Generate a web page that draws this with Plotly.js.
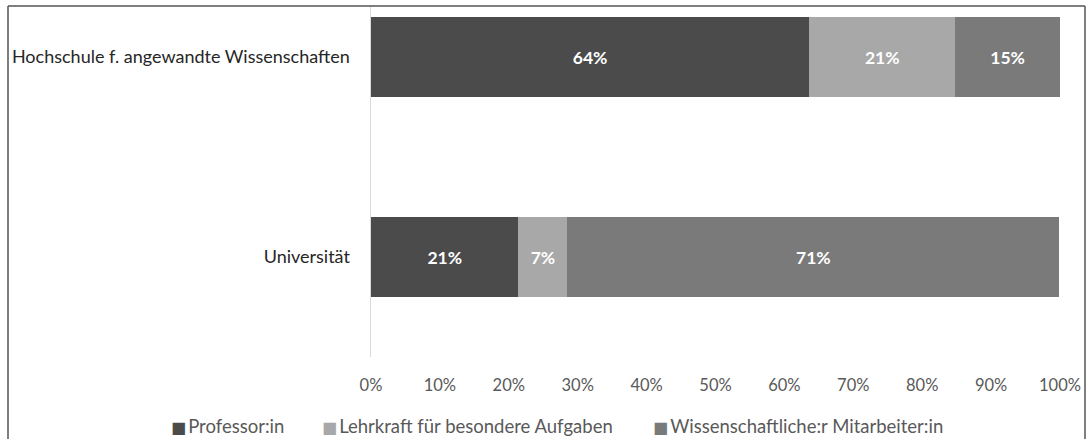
<!DOCTYPE html>
<html>
<head>
<meta charset="utf-8">
<script src="https://cdn.plot.ly/plotly-3.0.1.min.js"></script>
<style>html,body{margin:0;padding:0;background:#fff;}#chart{width:1090px;height:439px;}</style>
</head>
<body>
<div id="chart"></div>
<script>
const categories = ["Universität", "Hochschule f. angewandte Wissenschaften"];
const professor = [21.4, 63.6];
const lehrkraft = [7.1, 21.2];
const wissMitarbeiter = [71.4, 15.2];
const seriesNames = ["Professor:in", "Lehrkraft für besondere Aufgaben", "Wissenschaftliche:r Mitarbeiter:in"];
const tickVals = [0, 10, 20, 30, 40, 50, 60, 70, 80, 90, 100];
const tickText = ["0%", "10%", "20%", "30%", "40%", "50%", "60%", "70%", "80%", "90%", "100%"];

const colors = ["#4b4b4b", "#a8a8a8", "#7a7a7a"];
const fontFam = "Lato, 'Open Sans', sans-serif";

function mk(vals, i) {
  return {
    type: "bar", orientation: "h",
    y: categories, x: vals, name: seriesNames[i],
    marker: {color: colors[i], line: {width: 0}},
    width: 0.4,
    texttemplate: "%{x:.0f}%",
    textposition: "inside",
    insidetextanchor: "middle",
    textangle: 0,
    constraintext: "none",
    textfont: {color: "#ffffff", size: 17.5, family: fontFam, weight: "bold"},
    hoverinfo: "skip"
  };
}

const data = [mk(professor, 0), mk(lehrkraft, 1), mk(wissMitarbeiter, 2)];

const W = 689, H = 351;
const px = v => (v - 371) / W;
const py = v => (357 - v) / H;

const legendX = [169, 320, 651];
const legendAnn = seriesNames.map((n, i) => ({
  xref: "paper", yref: "paper", x: px(legendX[i]), y: py(426),
  xanchor: "left", yanchor: "middle", showarrow: false,
  text: '<span style="color:' + colors[i] + ';font-size:16px;font-family:DejaVu Sans">■</span><span style="font-size:8px"> </span>' + n,
  font: {size: 18.5, color: "#595959", family: fontFam}
}));

const layout = {
  width: 1090, height: 439,
  margin: {l: 371, r: 30, t: 6, b: 82, pad: 0},
  paper_bgcolor: "#ffffff", plot_bgcolor: "#ffffff",
  barmode: "stack",
  bargap: 0,
  font: {family: fontFam, size: 17, color: "#595959"},
  xaxis: {
    range: [0, 100], tickvals: tickVals, ticktext: tickText,
    showgrid: false, zeroline: false, showline: false, ticks: "",
    ticklabelstandoff: 16,
    tickfont: {size: 16.5, color: "#595959", family: fontFam},
    fixedrange: true
  },
  yaxis: {
    type: "category", range: [-0.5, 1.255],
    showgrid: false, zeroline: false,
    showline: true, linecolor: "#d9d9d9", linewidth: 1.5,
    ticks: "", ticklabelstandoff: 16,
    tickfont: {size: 18, color: "#262626", family: fontFam},
    fixedrange: true
  },
  showlegend: false,
  annotations: legendAnn,
  shapes: [
    {type: "line", xref: "paper", yref: "paper", x0: px(8), x1: px(8), y0: py(6), y1: py(445), line: {color: "#555555", width: 1.5}},
    {type: "line", xref: "paper", yref: "paper", x0: px(8), x1: px(1085), y0: py(6), y1: py(6), line: {color: "#555555", width: 1.5}},
    {type: "line", xref: "paper", yref: "paper", x0: px(1085), x1: px(1085), y0: py(6), y1: py(445), line: {color: "#555555", width: 1.5}}
  ]
};

Plotly.newPlot("chart", data, layout, {displayModeBar: false, staticPlot: true});
</script>
</body>
</html>
